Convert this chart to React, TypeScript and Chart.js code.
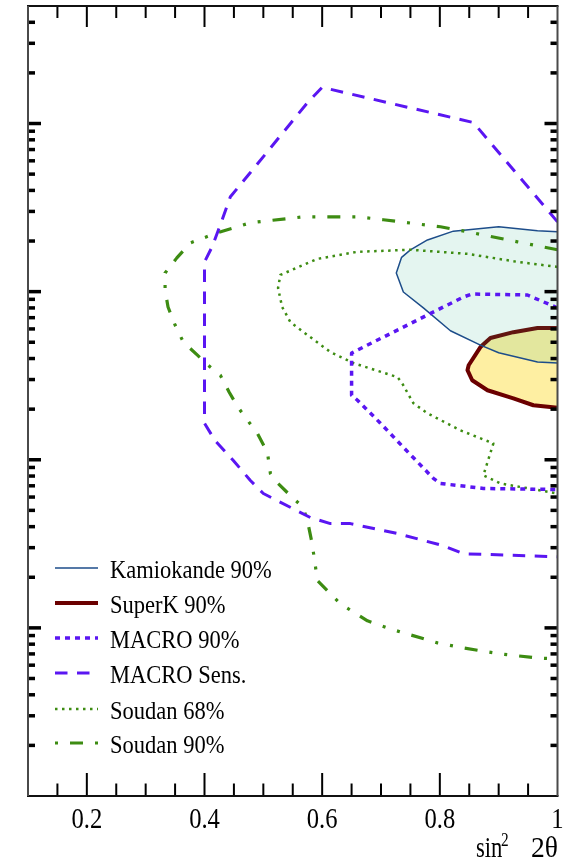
import React, { useEffect, useRef } from "react";
import { Chart, registerables } from "chart.js";

Chart.register(...registerables);

// ---- axis ranges and ticks ----
const X_MIN = 0.1;
const X_MAX = 1.0;
const Y_MIN = 1e-5;
const Y_MAX = 0.5;

const xMajorTicks = [0.2, 0.4, 0.6, 0.8];
const xMinorTicks = [0.15, 0.25, 0.3, 0.35, 0.45, 0.5, 0.55, 0.65, 0.7, 0.75, 0.85, 0.9, 0.95];
const xLabelValues = [0.2, 0.4, 0.6, 0.8, 1.0];
const xLabelTexts = ["0.2", "0.4", "0.6", "0.8", "1"];
const yMajorTicks = [1e-4, 1e-3, 1e-2, 1e-1];
const yDecadeBases = [1e-5, 1e-4, 1e-3, 1e-2, 1e-1];
const yMinorFactors = [2, 3, 4, 5, 6, 7, 8, 9];

// ---- contours: [sin^2 2θ, Δm²] ----
const kamiokande: [number, number][] = [
  [1.0, 0.0227], [0.966, 0.023], [0.9, 0.0243], [0.823, 0.0229], [0.779, 0.0203],
  [0.75, 0.0177], [0.735, 0.016], [0.726, 0.0129], [0.738, 0.00995], [0.772, 0.008],
  [0.818, 0.00585], [0.869, 0.00481], [0.9, 0.00433], [0.966, 0.00381], [1.0, 0.00376],
];

const superK: [number, number][] = [
  [1.0, 0.00607], [0.966, 0.00607], [0.925, 0.00574], [0.886, 0.0053], [0.869, 0.00468],
  [0.849, 0.00365], [0.847, 0.00341], [0.855, 0.00297], [0.881, 0.00259], [0.925, 0.00232],
  [0.959, 0.00211], [1.0, 0.00204],
];

const macro90: [number, number][] = [
  [1.0, 0.008], [0.949, 0.00955], [0.855, 0.00968], [0.84, 0.00929], [0.779, 0.00726],
  [0.66, 0.00449], [0.65, 0.00431], [0.65, 0.00242], [0.66, 0.00226], [0.699, 0.00165],
  [0.738, 0.001186], [0.789, 0.000775], [0.801, 0.000723], [0.874, 0.000675], [1.0, 0.000665],
];

const macroSens: [number, number][] = [
  [1.0, 0.026], [0.857, 0.1014], [0.6, 0.164], [0.575, 0.133], [0.478, 0.0511],
  [0.444, 0.0367], [0.43, 0.0267], [0.413, 0.0185], [0.4, 0.015], [0.4, 0.00165],
  [0.418, 0.0013], [0.449, 0.00099], [0.478, 0.000753], [0.5, 0.00063], [0.58, 0.000453],
  [0.614, 0.000417], [0.648, 0.000417], [0.728, 0.000364], [0.806, 0.000308],
  [0.84, 0.000276], [1.0, 0.000265],
];

const soudan68: [number, number][] = [
  [1.0, 0.01403], [0.932, 0.01503], [0.847, 0.01678], [0.75, 0.01774], [0.66, 0.01725],
  [0.592, 0.01567], [0.529, 0.01257], [0.525, 0.01051], [0.532, 0.0081], [0.546, 0.00659],
  [0.575, 0.00552], [0.614, 0.00437], [0.653, 0.00376], [0.728, 0.0031], [0.736, 0.00285],
  [0.755, 0.00217], [0.779, 0.00189], [0.835, 0.001496], [0.891, 0.00125], [0.874, 0.000807],
  [0.903, 0.000723], [1.0, 0.00063],
];

const soudan90: [number, number][] = [
  [1.0, 0.01774], [0.932, 0.01977], [0.847, 0.0227], [0.801, 0.02432], [0.704, 0.02676],
  [0.66, 0.02786], [0.568, 0.02786], [0.478, 0.02568], [0.422, 0.0224], [0.376, 0.0195],
  [0.353, 0.01588], [0.333, 0.01292], [0.333, 0.01023], [0.338, 0.0081], [0.35, 0.00633],
  [0.364, 0.00501], [0.388, 0.00419], [0.406, 0.00365], [0.427, 0.00318], [0.442, 0.00252],
  [0.457, 0.00205], [0.473, 0.00172], [0.49, 0.001435], [0.507, 0.001106], [0.512, 0.000829],
  [0.525, 0.000723], [0.546, 0.000612], [0.568, 0.00052], [0.576, 0.000417], [0.583, 0.000317],
  [0.592, 0.000191], [0.614, 0.0001595], [0.631, 0.000139], [0.677, 0.0001101],
  [0.716, 0.0000986], [0.796, 0.0000814], [0.84, 0.000076], [0.903, 0.00007],
  [0.966, 0.0000662], [1.0, 0.0000653],
];

const legendLabels = [
  "Kamiokande 90%",
  "SuperK 90%",
  "MACRO 90%",
  "MACRO Sens.",
  "Soudan 68%",
  "Soudan 90%",
];

const MACRO_COLOR = "#5a16f2";
const GREEN = "#3d8c12";

const seriesStyles = [
  { data: kamiokande, color: "#1d4d8a", width: 1.5, dash: [] as number[], fill: "rgba(30,172,130,0.12)", order: 2, legendOffset: 0 },
  { data: superK, color: "#6b0000", width: 4, dash: [] as number[], fill: "#feefa2", order: 3, legendOffset: 0 },
  { data: macro90, color: MACRO_COLOR, width: 3.5, dash: [5, 5], fill: null, order: 1, legendOffset: 0 },
  { data: macroSens, color: MACRO_COLOR, width: 3, dash: [12.5, 9.5], fill: null, order: 1, legendOffset: 0 },
  { data: soudan68, color: GREEN, width: 2.5, dash: [2.5, 4.5], fill: null, order: 1, legendOffset: 0 },
  { data: soudan90, color: GREEN, width: 3.2, dash: [13, 12, 3, 12, 3, 12], fill: null, order: 1, legendOffset: 40 },
];

const SERIF = '"Liberation Serif", "Times New Roman", serif';

function drawScaledText(ctx: CanvasRenderingContext2D, text: string, x: number, y: number, size: number, sx: number, align: "left" | "center" | "right") {
  ctx.save();
  ctx.font = `${size}px ${SERIF}`;
  ctx.textBaseline = "alphabetic";
  ctx.textAlign = align;
  ctx.translate(x, y);
  ctx.scale(sx, 1);
  ctx.fillText(text, 0, 0);
  ctx.restore();
}

const decorPlugin = {
  id: "decor",
  afterDraw(chart: any) {
    const { ctx, chartArea: a, scales } = chart;
    const xs = scales.x;
    const ys = scales.y;
    ctx.save();
    ctx.setLineDash([]);
    const line = (x1: number, y1: number, x2: number, y2: number) => {
      ctx.beginPath();
      ctx.moveTo(x1, y1);
      ctx.lineTo(x2, y2);
      ctx.stroke();
    };
    // x ticks (bottom and top, pointing inward)
    ctx.strokeStyle = "#000";
    ctx.lineWidth = 2;
    for (const v of xMinorTicks) {
      const px = xs.getPixelForValue(v);
      line(px, a.bottom, px, a.bottom - 12.5);
      line(px, a.top, px, a.top + 12);
    }
    for (const v of xMajorTicks) {
      const px = xs.getPixelForValue(v);
      line(px, a.bottom, px, a.bottom - 23);
      line(px, a.top, px, a.top + 21);
    }
    // y ticks (left and right, pointing inward)
    ctx.lineWidth = 3.5;
    for (const b of yDecadeBases) {
      for (const f of yMinorFactors) {
        const v = b * f;
        if (v <= Y_MIN || v >= Y_MAX) continue;
        const py = ys.getPixelForValue(v);
        line(a.left, py, a.left + 7, py);
        line(a.right, py, a.right - 7, py);
      }
    }
    for (const v of yMajorTicks) {
      const py = ys.getPixelForValue(v);
      line(a.left, py, a.left + 13, py);
      line(a.right, py, a.right - 13, py);
    }
    // frame
    ctx.lineWidth = 2;
    ctx.strokeStyle = "#111";
    line(a.left - 1, a.top, a.right + 1, a.top);
    line(a.left - 1, a.bottom, a.right + 1, a.bottom);
    ctx.strokeStyle = "#4a4a4a";
    line(a.left, a.top, a.left, a.bottom);
    line(a.right, a.top, a.right, a.bottom);

    // x tick labels
    ctx.fillStyle = "#000";
    xLabelValues.forEach((v, i) => {
      const px = xs.getPixelForValue(v);
      drawScaledText(ctx, xLabelTexts[i], px, a.bottom + 32, 30, 0.82, "center");
    });

    // axis title: sin² 2θ
    drawScaledText(ctx, "sin", 476, a.bottom + 61, 29, 0.78, "left");
    drawScaledText(ctx, "2", 501, a.bottom + 50, 18, 0.85, "left");
    drawScaledText(ctx, "2θ", 558, a.bottom + 61, 29, 0.95, "right");

    // legend
    const rows = [568, 603, 638, 673, 709, 743];
    seriesStyles.forEach((s, i) => {
      const y = rows[i];
      ctx.save();
      ctx.strokeStyle = s.color;
      ctx.lineWidth = s.width;
      ctx.setLineDash(s.dash);
      ctx.lineDashOffset = s.legendOffset;
      ctx.lineCap = "butt";
      line(55, y, 98, y);
      ctx.restore();
      ctx.fillStyle = "#000";
      drawScaledText(ctx, legendLabels[i], 110, y + 10, 25, 0.9, "left");
    });
    ctx.restore();
  },
};

export default function App() {
  const canvasRef = useRef<HTMLCanvasElement | null>(null);

  useEffect(() => {
    const canvas = canvasRef.current;
    if (!canvas) return;
    const datasets = seriesStyles.map((s, i) => ({
      label: legendLabels[i],
      data: s.data.map(([x, y]) => ({ x, y })),
      borderColor: s.color,
      borderWidth: s.width,
      borderDash: s.dash,
      backgroundColor: s.fill || "transparent",
      fill: s.fill ? "shape" : false,
      order: s.order,
      pointRadius: 0,
      pointHoverRadius: 0,
      tension: 0,
      clip: 0,
      borderCapStyle: "butt",
      borderJoinStyle: "round",
    }));
    const chart = new Chart(canvas, {
      type: "line",
      data: { datasets } as any,
      options: {
        responsive: false,
        animation: false,
        devicePixelRatio: 1,
        layout: { padding: { left: 28, right: 15.5, top: 6, bottom: 70 } },
        scales: {
          x: { type: "linear", min: X_MIN, max: X_MAX, display: false },
          y: { type: "logarithmic", min: Y_MIN, max: Y_MAX, display: false },
        },
        plugins: {
          legend: { display: false },
          tooltip: { enabled: false },
        },
        events: [],
      } as any,
      plugins: [decorPlugin],
    });
    return () => chart.destroy();
  }, []);

  return (
    <div style={{ position: "absolute", left: 0, top: 0, width: 573, height: 866, background: "#fff" }}>
      <canvas ref={canvasRef} width={573} height={866} />
    </div>
  );
}
